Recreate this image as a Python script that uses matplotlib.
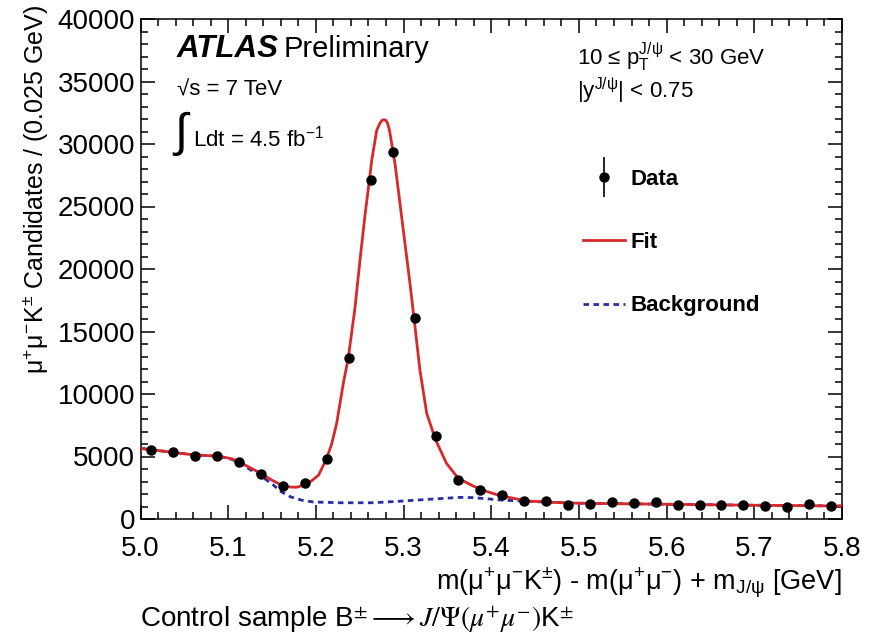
import numpy as np
import matplotlib
matplotlib.use("Agg")
import matplotlib.pyplot as plt
from matplotlib.ticker import MultipleLocator, FormatStrFormatter
from matplotlib.container import ErrorbarContainer
from matplotlib.legend_handler import HandlerErrorbar
from matplotlib.lines import Line2D

plt.rcParams['font.family'] = ['Liberation Sans', 'DejaVu Sans']
plt.rcParams['mathtext.fontset'] = 'custom'
plt.rcParams['mathtext.rm'] = 'Liberation Sans'
plt.rcParams['mathtext.it'] = 'Liberation Sans:italic'
plt.rcParams['mathtext.bf'] = 'Liberation Sans:bold'
plt.rcParams['mathtext.sf'] = 'Liberation Sans'

# data: bin centres (0.025 GeV bins) and candidate counts
bin_centers = [5.0125, 5.0375, 5.0625, 5.0875, 5.1125, 5.1375, 5.1625, 5.1875,
               5.2125, 5.2375, 5.2625, 5.2875, 5.3125, 5.3375, 5.3625, 5.3875,
               5.4125, 5.4375, 5.4625, 5.4875, 5.5125, 5.5375, 5.5625, 5.5875,
               5.6125, 5.6375, 5.6625, 5.6875, 5.7125, 5.7375, 5.7625, 5.7875]
counts = [5550, 5370, 5010, 5070, 4530, 3640, 2650, 2850,
          4800, 12900, 27100, 29350, 16100, 6680, 3140, 2360,
          1940, 1470, 1420, 1130, 1200, 1330, 1280, 1330,
          1130, 1150, 1120, 1120, 1070, 990, 1200, 1040]

# fit curve
fit_x = [5.000, 5.020, 5.040, 5.060, 5.080, 5.095, 5.105, 5.115, 5.125, 5.136,
         5.150, 5.160, 5.170, 5.178, 5.186, 5.195, 5.203, 5.212, 5.218, 5.2237,
         5.2313, 5.237, 5.2446, 5.2503, 5.256, 5.261, 5.2637, 5.2694, 5.2733, 5.2755,
         5.2777, 5.2797, 5.2815, 5.2837, 5.2902, 5.2959, 5.3016, 5.3073, 5.313, 5.3187,
         5.3264, 5.3366, 5.349, 5.3624, 5.387, 5.410, 5.440, 5.470, 5.500, 5.550,
         5.600, 5.650, 5.700, 5.750, 5.800]
fit_y = [5650, 5480, 5300, 5140, 5060, 4950, 4800, 4480, 4100, 3700,
         3100, 2750, 2560, 2540, 2700, 3050, 3500, 4800, 6000, 7650,
         10850, 12900, 16900, 20700, 24300, 27100, 28700, 31100, 31700, 31900,
         31950, 31900, 31700, 31200, 28450, 25250, 22050, 18850, 15400, 11900,
         8450, 6320, 4450, 3250, 2370, 1870, 1450, 1330, 1260, 1220,
         1180, 1140, 1100, 1070, 1040]

# background component
bkg_x = [5.000, 5.020, 5.040, 5.060, 5.080, 5.095, 5.105, 5.115, 5.125, 5.136,
         5.1515, 5.160, 5.1705, 5.183, 5.197, 5.2275, 5.2655, 5.2997, 5.334, 5.3643,
         5.3795, 5.395, 5.410, 5.440, 5.470, 5.500, 5.550, 5.600, 5.650, 5.700,
         5.750, 5.800]
bkg_y = [5650, 5480, 5300, 5140, 5060, 4930, 4750, 4380, 3950, 3520,
         2720, 2200, 1790, 1520, 1360, 1300, 1300, 1440, 1600, 1730,
         1710, 1620, 1520, 1420, 1330, 1260, 1220, 1180, 1140, 1100,
         1070, 1040]

red = '#d8282c'
blue = '#2b2ba6'

fig = plt.figure(figsize=(8.74, 6.4), dpi=100)
ax = fig.add_axes([140.5 / 874, 1 - 519 / 640, (842 - 140.5) / 874, (519 - 19) / 640])

ax.plot(bkg_x, bkg_y, color=blue, lw=2.0, ls=(0, (2.0, 1.6)), zorder=2, label='Background')
ax.plot(fit_x, fit_y, color=red, lw=2.0, zorder=3, label='Fit')
eb = ax.errorbar(bin_centers, counts, yerr=np.sqrt(counts), fmt='o', color='black',
                 ms=6.5, elinewidth=1.2, capsize=0, zorder=4, label='Data')

ax.set_xlim(5.0, 5.8)
ax.set_ylim(0, 40000)
ax.xaxis.set_major_locator(MultipleLocator(0.1))
ax.xaxis.set_minor_locator(MultipleLocator(0.02))
ax.xaxis.set_major_formatter(FormatStrFormatter('%.1f'))
ax.yaxis.set_major_locator(MultipleLocator(5000))
ax.yaxis.set_minor_locator(MultipleLocator(1000))
ax.tick_params(which='both', direction='in', top=True, right=True, width=1.1)
ax.tick_params(which='major', length=10, labelsize=20)
ax.tick_params(which='minor', length=5)
ax.tick_params(axis='x', which='major', pad=12)
ax.tick_params(axis='y', which='major', pad=4)
for s in ax.spines.values():
    s.set_linewidth(1.1)

fig.text(35 / 874, 1 - 5 / 640,
         r'$\mathrm{\mu^{+}\mu^{-}K^{\pm}}$ Candidates / (0.025 GeV)',
         rotation=90, ha='center', va='top', fontsize=18)
fig.text(842 / 874, 1 - 583 / 640,
         r'm(μ$^{+}$μ$^{-}$K$^{\pm}$) - m(μ$^{+}$μ$^{-}$) + m$_{\mathrm{J/\psi}}$ [GeV]',
         ha='right', va='center', fontsize=19.5)
fig.text(140 / 874, 1 - 620 / 640,
         r'Control sample B$^{\pm}$$\longrightarrow$$J/\Psi(\mu^{+}\mu^{-})$K$^{\pm}$',
         ha='left', va='center', fontsize=20, math_fontfamily='stix')

# ATLAS label and conditions
fig.text(177 / 874, 1 - 57 / 640, 'ATLAS', fontsize=22.5, fontweight='bold',
         fontstyle='italic', va='baseline')
fig.text(284 / 874, 1 - 57 / 640, 'Preliminary', fontsize=21, va='baseline')
fig.text(177 / 874, 1 - 95 / 640, '√s = 7 TeV', fontsize=16, va='baseline')
fig.text(174 / 874, 1 - 134 / 640, '∫', fontsize=34, va='center')
fig.text(193 / 874, 1 - 146 / 640, r'Ldt = 4.5 fb$^{\mathrm{-1}}$', fontsize=16, va='baseline')
fig.text(577 / 874, 1 - 65 / 640, r'10 ≤ p$_{\mathrm{T}}^{\mathrm{J/\psi}}$ < 30 GeV',
         fontsize=16, va='baseline')
fig.text(577 / 874, 1 - 98 / 640, r'|y$^{\mathrm{J/\psi}}$| < 0.75', fontsize=16, va='baseline')

handles = [eb, Line2D([], [], color=red, lw=2.0),
           Line2D([], [], color=blue, lw=2.0, ls=(0, (2.0, 1.6)))]
leg = fig.legend(handles, ['Data', 'Fit', 'Background'], loc='upper left',
                 bbox_to_anchor=(583 / 874, 1 - 169 / 640), frameon=False,
                 prop={'size': 16, 'weight': 'bold'}, labelspacing=1.9,
                 handlelength=1.9, handletextpad=0.25, borderpad=0, borderaxespad=0,
                 handler_map={ErrorbarContainer: HandlerErrorbar(yerr_size=0.9)})

fig.savefig('out.png', dpi=100)
